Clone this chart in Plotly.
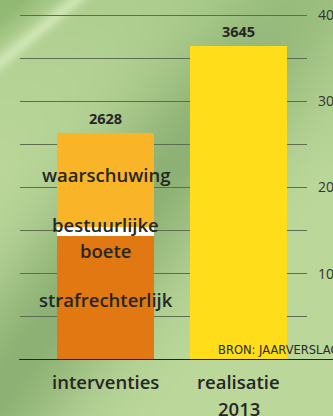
import base64
import struct
import zlib

import numpy as np
import plotly.graph_objects as go

# Data
categories = ["interventies", "realisatie 2013"]
category_lines = [["interventies"], ["realisatie", "2013"]]
segments = ["strafrechterlijk", "bestuurlijke boete", "waarschuwing"]
segment_values = [1442, 105, 1081]          # stacked parts of "interventies"
segment_colors = ["#E27812", "#FFFFFF", "#F9B428"]
realisatie_value = 3645
totals = [sum(segment_values), realisatie_value]
tick_vals = [1000, 2000, 3000, 4000]
tick_text = ["1000", "2000", "3000", "4000"]
source_text = "BRON: JAARVERSLAG"

FONT = "Open Sans"
TXT = "#262626"
W, H = 333, 416
ML, MR, MT, MB = 20, 26, 10, 56


def leaf_background(w, h):
    """Soft green backdrop with a darker diagonal band and a light streak."""
    yy, xx = np.mgrid[0:h, 0:w].astype(float)
    light = np.array([188, 216, 155], float)
    dark = np.array([141, 177, 116], float)
    mid = np.array([163, 199, 133], float)
    d = (330 * xx + 250 * yy - 82500) / 414.0
    wd = np.exp(-((d - 35) / 70.0) ** 2)[..., None]
    img = light * (1 - wd) + dark * wd
    top = np.clip(1 - yy / 170.0, 0, 1)[..., None] * 0.55
    img = img * (1 - top) + mid * top
    s = (62 * xx + 75 * yy - 4650) / 97.0
    corner = np.clip(-(s + 8) / 25.0, 0, 1)[..., None] * 0.65
    img = img * (1 - corner) + np.array([132, 174, 102], float) * corner
    streak = np.exp(-(s / 7.0) ** 2)[..., None] * 0.85
    img = img * (1 - streak) + np.array([210, 232, 185], float) * streak
    img = np.clip(img, 0, 255).astype(np.uint8)
    raw = b"".join(b"\x00" + img[r].tobytes() for r in range(h))

    def chunk(tag, data):
        c = struct.pack(">I", len(data)) + tag + data
        return c + struct.pack(">I", zlib.crc32(tag + data) & 0xFFFFFFFF)

    png = (b"\x89PNG\r\n\x1a\n"
           + chunk(b"IHDR", struct.pack(">IIBBBBB", w, h, 8, 2, 0, 0, 0))
           + chunk(b"IDAT", zlib.compress(raw, 9))
           + chunk(b"IEND", b""))
    return "data:image/png;base64," + base64.b64encode(png).decode()


fig = go.Figure()

for name, val, col in zip(segments, segment_values, segment_colors):
    fig.add_bar(x=[categories[0]], y=[val], name=name, marker_color=col,
                marker_line_width=0, width=0.73)

fig.add_bar(x=[categories[1]], y=[realisatie_value], name=categories[1],
            marker_color="#FFDD1A", marker_line_width=0, width=0.73)

annotations = []
# totals above bars
for cat, tot in zip(categories, totals):
    annotations.append(dict(x=cat, y=tot, text=f"<b>{tot}</b>", showarrow=False,
                            yanchor="bottom", yshift=3,
                            font=dict(family=FONT, size=14.5, color=TXT)))

# segment labels inside the stacked bar
seg_label_pos = [
    ("strafrechterlijk", 700),
    ("boete", 1265),
    ("bestuurlijke", 1575),
    ("waarschuwing", 2150),
]
for txt, yv in seg_label_pos:
    annotations.append(dict(x=categories[0], y=yv, text=txt, showarrow=False,
                            yanchor="middle",
                            font=dict(family=FONT, size=18.5, color=TXT, weight=600)))

# category labels below the baseline
for cat, lines in zip(categories, category_lines):
    for i, line in enumerate(lines):
        annotations.append(dict(x=cat, y=0, text=line, showarrow=False,
                                yanchor="middle", yshift=-21 - 27 * i,
                                font=dict(family=FONT, size=18.5, color=TXT, weight=600)))

# source note
annotations.append(dict(x=196 / 287, xref="paper", y=10, yref="y",
                        xanchor="left", yanchor="bottom", showarrow=False,
                        text=source_text,
                        font=dict(family="DejaVu Sans", size=11.5, color="#2a2a2a")))

shapes = [
    # baseline
    dict(type="line", xref="paper", yref="y", x0=-0.003, x1=1.2, y0=0, y1=0,
         line=dict(color="#222222", width=2)),
]

pw, ph = W - ML - MR, H - MT - MB
fig.update_layout(
    width=W, height=H,
    margin=dict(l=ML, r=MR, t=MT, b=MB),
    barmode="stack",
    showlegend=False,
    paper_bgcolor="#b0cf8e",
    plot_bgcolor="rgba(0,0,0,0)",
    annotations=annotations,
    shapes=shapes,
    images=[dict(source=leaf_background(W, H), xref="paper", yref="paper",
                 x=-ML / pw, y=1 + MT / ph, sizex=W / pw, sizey=H / ph,
                 xanchor="left", yanchor="top", sizing="stretch", layer="below")],
    xaxis=dict(range=[-0.643, 1.515], showticklabels=False, showgrid=False,
               zeroline=False, showline=False, fixedrange=True),
    yaxis=dict(range=[0, 4058], side="right", tickvals=tick_vals, ticktext=tick_text,
               showgrid=True, gridcolor="#5e6d50", gridwidth=1.4,
               minor=dict(dtick=500, showgrid=True, gridcolor="#5e6d50", gridwidth=1.4),
               zeroline=False, showline=False, ticks="", automargin=False,
               ticklabelstandoff=10,
               tickfont=dict(family=FONT, size=14, color="#333333")),
)

fig.write_html("out.html")
